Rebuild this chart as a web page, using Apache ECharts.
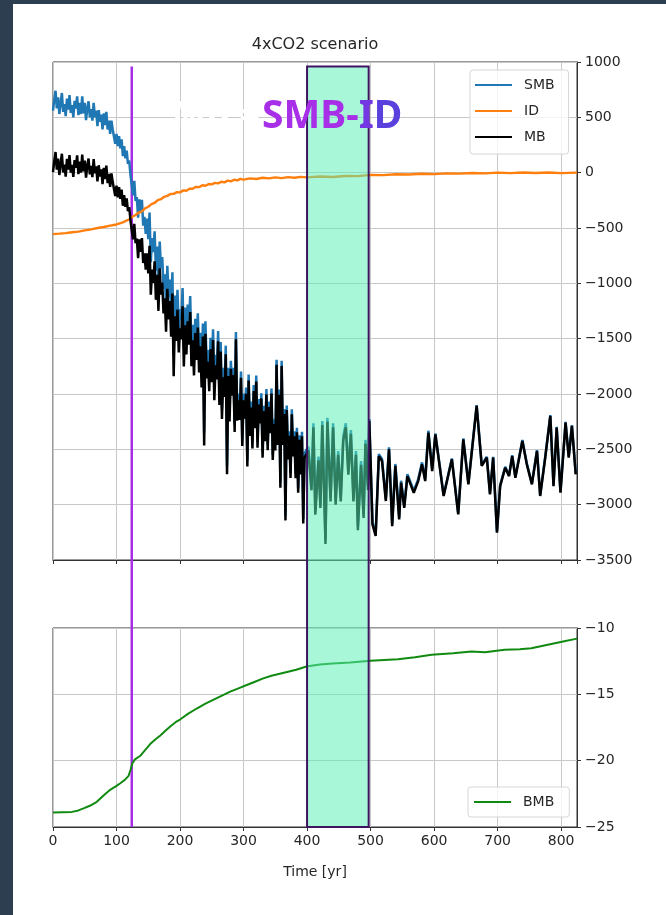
<!DOCTYPE html>
<html><head><meta charset="utf-8">
<script src="https://cdn.jsdelivr.net/npm/echarts@6/dist/echarts.min.js"></script>
<style>
html,body{margin:0;padding:0;background:#fff;}
#c{position:absolute;left:0;top:0;width:666px;height:915px;background:#fff;}
.band{position:absolute;background:#2c3e50;}
</style></head><body>
<div id="c"></div>
<div class="band" style="left:0;top:0;width:13px;height:915px"></div>
<div class="band" style="left:0;top:0;width:666px;height:4px"></div>
<script>
// ---------- data ----------
const massYears = [0,2,4,6,8,10,12,14,16,18,20,22,24,26,28,30,32,34,36,38,40,42,44,46,48,50,52,54,56,58,60,62,64,66,68,70,72,74,76,78,80,82,84,86,88,90,92,94,96,98,100,102,104,106,108,110,112,114,116,118,120,122,
124,126,128,130,132,134,136,138,140,142,144,146,148,150,152,154,156,158,160,162,164,166,168,170,172,174,176,178,180,182,184,186,188,190,192,194,196,198,
200,202,204,206,208,210,212,214,216,218,220,222,224,226,228,230,232,234,236,238,240,242,244,246,248,250,252,254,256,258,260,262,264,266,268,270,272,274,276,278,280,282,284,286,288,290,292,294,296,298,
300,302,304,306,308,310,312,314,316,318,320,322,324,326,328,330,332,334,336,338,340,342,344,346,348,350,352,354,356,358,360,362,364,366,368,370,372,374,376,378,380,382,384,386,388,390,392,394,396,
402,407,410,413,418,421,424,429,432,437,441,445,449,453,457,461,465,469,473,477,480,485,489,492,496,
498,503,508,513,518,524,529,534,539,545,548,553,558,568,575,581,586,591,597,602,608,615,628,638,646,654,667,675,683,688,693,699,704,712,718,723,728,739,746,754,762,767,775,783,788,793,799,807,812,817,823];

const smbValues = [560,660,740,580,680,530,630,720,550,620,510,670,570,700,540,610,500,650,580,690,520,630,530,690,535,630,475,580,645,500,575,470,630,500,560,420,565,460,525,390,535,430,550,390,470,350,470,390,400,260,350,240,330,220,300,150,240,130,200,80,110,-20,
-28,-205,-73,-256,-221,-407,-242,-363,-245,-478,-399,-554,-415,-602,-361,-810,-592,-719,-529,-886,-668,-1002,-623,-865,-762,-1050,-919,-1225,-841,-1124,-965,-1289,-900,-1650,-1111,-1338,-1059,-1447,
-1232,-1336,-1043,-1590,-1218,-1485,-1192,-1408,-1115,-1606,-1374,-1697,-1320,-1564,-1271,-1678,-1446,-1825,-1364,-2350,-1343,-1750,-1602,-1869,-1492,-1792,-1415,-1962,-1646,-1773,-1430,-2011,-1531,-2140,-1764,-1944,-1563,-2650,-1763,-2174,-1699,-1945,-1762,-2277,-1440,-2175,-1997,-2177,-1796,-2410,
-1996,-2166,-1942,-2600,-1824,-2326,-2069,-2439,-1918,-2255,-1833,-2434,-2045,-2217,-1993,-2528,-2106,-2377,-1955,-2457,-2068,-2306,-1950,-2551,-2228,-2466,-1690,-2414,-1959,-2800,-1700,-2416,-2136,-3100,-2104,-2550,-2336,-2716,-2139,-2519,-2338,-2718,-2306,-2851,-2373,-2687,-2341,-3130,-2534,
-2475,-2835,-2265,-3055,-2565,-2995,-2245,-3320,-2215,-2935,-2265,-2965,-2515,-2935,-2385,-2265,-2695,-2325,-2935,-2515,-3195,-2605,-3085,-2415,-2835,
-2226,-3160,-3265,-2543,-2587,-2949,-2482,-3176,-2632,-3115,-2784,-3010,-2724,-2874,-2769,-2618,-2769,-2332,-2678,-2357,-2612,-2914,-2582,-3080,-2402,-2809,-2100,-2642,-2567,-2899,-2567,-3246,-2824,-2658,-2734,-2553,-2749,-2416,-2628,-2809,-2507,-2914,-2567,-2191,-2824,-2296,-2884,-2251,-2567,-2281,-2719];

const mbValues = [5,106,187,28,128,-21,80,171,2,73,-36,125,27,158,0,71,-38,114,45,156,-13,99,1,164,11,108,-45,62,128,-15,62,-40,122,-5,57,-80,67,-36,30,-103,44,-59,64,-94,-11,-129,-7,-85,-72,-210,-118,-224,-130,-237,-153,-299,-203,-308,-232,-347,-311,-432,
-433,-603,-463,-638,-595,-773,-602,-716,-592,-816,-729,-876,-730,-910,-661,-1102,-876,-997,-801,-1149,-922,-1249,-865,-1103,-992,-1272,-1135,-1437,-1049,-1325,-1160,-1482,-1092,-1840,-1297,-1520,-1238,-1624,
-1407,-1506,-1208,-1752,-1378,-1643,-1344,-1555,-1260,-1749,-1514,-1832,-1450,-1693,-1399,-1805,-1568,-1942,-1480,-2465,-1457,-1860,-1708,-1974,-1596,-1894,-1513,-2056,-1740,-1867,-1523,-2100,-1616,-2225,-1848,-2027,-1642,-2725,-1838,-2248,-1772,-2014,-1828,-2343,-1506,-2240,-2058,-2235,-1854,-2469,
-2056,-2224,-1998,-2655,-1878,-2379,-2122,-2493,-1973,-2310,-1887,-2486,-2095,-2265,-2040,-2575,-2154,-2426,-2005,-2507,-2117,-2354,-1996,-2596,-2272,-2510,-1735,-2460,-2006,-2847,-1746,-2461,-2180,-3142,-2145,-2591,-2378,-2759,-2183,-2563,-2381,-2760,-2347,-2891,-2413,-2727,-2382,-3171,-2576,
-2510,-2870,-2300,-3090,-2600,-3030,-2280,-3355,-2250,-2970,-2300,-3000,-2550,-2970,-2420,-2300,-2730,-2360,-2970,-2550,-3230,-2640,-3120,-2450,-2870,
-2244,-3178,-3283,-2561,-2605,-2967,-2500,-3194,-2650,-3133,-2802,-3028,-2742,-2892,-2787,-2636,-2787,-2350,-2696,-2365,-2620,-2922,-2590,-3088,-2410,-2817,-2108,-2650,-2575,-2907,-2575,-3254,-2832,-2666,-2742,-2561,-2757,-2424,-2636,-2817,-2515,-2922,-2575,-2199,-2832,-2304,-2892,-2259,-2575,-2289,-2727];

const idYears = [0,10,20,30,40,50,60,70,80,90,100,110,120,125,130,135,140,145,150,155,160,165,170,175,180,185,190,195,200,205,210,215,220,225,230,235,240,245,250,255,260,265,270,275,280,285,290,295,300,310,320,330,340,350,360,370,380,390,400,420,440,460,480,500,520,540,560,580,600,620,640,660,680,700,720,740,760,780,800,825];
const idValues = [-555,-551,-546,-539,-533,-522,-513,-500,-491,-479,-468,-449,-421,-398,-382,-360,-349,-322,-308,-284,-272,-249,-240,-218,-210,-193,-192,-176,-178,-160,-163,-145,-146,-128,-131,-114,-118,-103,-106,-92,-97,-82,-88,-72,-78,-64,-70,-56,-63,-52,-57,-46,-52,-43,-49,-40,-46,-38,-43,-34,-39,-30,-31,-20,-22,-14,-17,-10,-13,-6,-9,-3,-6,0,-4,2,-3,1,-4,0];

const bmbYears = [0,15,30,40,48,58,69,80,90,100,106,113,119,122,125,129,137,145,153,161,169,177,185,193,200,213,227,240,253,266,279,292,305,318,331,344,357,370,383,399,420,440,468,500,543,570,596,630,659,680,711,735,753,779,805,825];
const bmbValues = [-23.9,-23.88,-23.86,-23.75,-23.6,-23.4,-23.1,-22.6,-22.2,-21.9,-21.7,-21.45,-21.15,-20.7,-20.2,-19.9,-19.65,-19.2,-18.75,-18.4,-18.1,-17.75,-17.4,-17.1,-16.9,-16.45,-16.05,-15.7,-15.4,-15.1,-14.8,-14.55,-14.3,-14.05,-13.8,-13.6,-13.45,-13.3,-13.15,-12.9,-12.75,-12.68,-12.6,-12.47,-12.35,-12.2,-12.02,-11.9,-11.77,-11.82,-11.64,-11.6,-11.52,-11.26,-11.0,-10.8];

const titleText = '4xCO2 scenario';
const xName = 'Time [yr]';
const markYear = 124;
const boxStart = 400, boxEnd = 497;
const boxTopValue = 960;

// ---------- chart ----------
const zip = (xs, ys) => xs.map((x, i) => [x, ys[i]]);
const minus = v => (v < 0 ? '\u2212' + Math.abs(v) : String(v));
const FONT = 'DejaVu Sans';
const TXT = '#262626';
const gridLine = {show: true, lineStyle: {color: '#c8c8c8', width: 1}};

const chart = echarts.init(document.getElementById('c'), null, {renderer: 'canvas'});
const xCommon = {
  type: 'value', min: 0, max: 825, interval: 100,
  axisLine: {show: true, onZero: false, lineStyle: {color: '#333', width: 1}},
  axisTick: {show: true, inside: false, length: 4, lineStyle: {color: '#333'}},
  splitLine: gridLine
};
const legendCommon = {
  orient: 'vertical', itemWidth: 37, itemHeight: 14,
  backgroundColor: 'rgba(255,255,255,0.8)', borderColor: '#d6d6d6', borderWidth: 1, borderRadius: 3,
  selectedMode: false, itemStyle: {opacity: 0},
  textStyle: {fontFamily: FONT, fontSize: 14, color: TXT, padding: [0, 0, 0, 7]}
};
chart.setOption({
  animation: false,
  backgroundColor: '#fff',
  grid: [
    {left: 53, top: 62, width: 524, height: 498, show: true, borderColor: '#333', borderWidth: 1, backgroundColor: 'transparent'},
    {left: 53, top: 628, width: 524, height: 199, show: true, borderColor: '#333', borderWidth: 1, backgroundColor: 'transparent'}
  ],
  xAxis: [
    Object.assign({}, xCommon, {gridIndex: 0, axisLabel: {show: false}}),
    Object.assign({}, xCommon, {gridIndex: 1,
      axisLabel: {show: true, margin: 7, fontFamily: FONT, fontSize: 14, color: TXT, showMaxLabel: false},
      name: xName, nameLocation: 'middle', nameGap: 38,
      nameTextStyle: {fontFamily: FONT, fontSize: 14, color: TXT}})
  ],
  yAxis: [
    {type: 'value', gridIndex: 0, position: 'right', min: -3500, max: 1000, interval: 500,
     axisLine: {show: true, onZero: false, lineStyle: {color: '#333'}},
     axisTick: {show: true, inside: false, length: 4, lineStyle: {color: '#333'}},
     axisLabel: {margin: 8, fontFamily: FONT, fontSize: 14, color: TXT, formatter: minus},
     splitLine: gridLine},
    {type: 'value', gridIndex: 1, position: 'right', min: -25, max: -10, interval: 5,
     axisLine: {show: true, onZero: false, lineStyle: {color: '#333'}},
     axisTick: {show: true, inside: false, length: 4, lineStyle: {color: '#333'}},
     axisLabel: {margin: 8, fontFamily: FONT, fontSize: 14, color: TXT, formatter: minus},
     splitLine: gridLine}
  ],
  legend: [
    Object.assign({}, legendCommon, {data: ['SMB', 'ID', 'MB'], left: 470, top: 70, itemGap: 12, padding: [8, 14, 10, 4]}),
    Object.assign({}, legendCommon, {data: ['BMB'], left: 468, top: 787, padding: [8, 15, 8, 5]})
  ],
  series: [
    {name: 'SMB', type: 'line', xAxisIndex: 0, yAxisIndex: 0, data: zip(massYears, smbValues),
     symbol: 'none', color: '#1f77b4', lineStyle: {color: '#1f77b4', width: 2.5}, z: 2},
    {name: 'ID', type: 'line', xAxisIndex: 0, yAxisIndex: 0, data: zip(idYears, idValues),
     symbol: 'none', color: '#ff7f0e', lineStyle: {color: '#ff7f0e', width: 2.4}, z: 3},
    {name: 'MB', type: 'line', xAxisIndex: 0, yAxisIndex: 0, data: zip(massYears, mbValues),
     symbol: 'none', color: '#000000', lineStyle: {color: '#000000', width: 2.5}, z: 4},
    {name: 'BMB', type: 'line', xAxisIndex: 1, yAxisIndex: 1, data: zip(bmbYears, bmbValues),
     symbol: 'none', color: '#108a10', lineStyle: {color: '#108a10', width: 2}, z: 2}
  ]
});

const px = v => chart.convertToPixel({xAxisIndex: 0}, v);
const yTop = chart.convertToPixel({yAxisIndex: 0}, boxTopValue);
const yBot = chart.convertToPixel({yAxisIndex: 1}, -25);
const x0 = px(boxStart), x1 = px(boxEnd), xm = px(markYear);
const bigFont = 'bold 39px "Noto Sans"';

chart.setOption({
  graphic: [
    {type: 'text', x: 315, y: 45, z: 10,
     style: {text: titleText, font: '16px "DejaVu Sans"', fill: TXT, align: 'center', verticalAlign: 'middle'}},
    {type: 'line', z: 1, shape: {x1: xm, y1: yTop, x2: xm, y2: yBot},
     style: {stroke: '#a62ee6', lineWidth: 2.5}},
    {type: 'text', x: 172, y: 117, z: 1,
     style: {text: 'MB =', font: 'bold 36px "Noto Sans"', fill: '#ffffff', align: 'left', verticalAlign: 'middle'}},
    {type: 'rect', z: 50, shape: {x: x0, y: yTop, width: x1 - x0, height: yBot - yTop},
     style: {fill: 'rgba(88,240,181,0.52)', stroke: '#3d1560', lineWidth: 2}},
    {type: 'text', x: 262, y: 117, z: 60,
     style: {text: '{a|SMB-}{b|I}{c|D}', font: bigFont, align: 'left', verticalAlign: 'middle', fill: '#a82fe8',
       rich: {
         a: {font: bigFont, fill: '#a82fe8'},
         b: {font: bigFont, fill: '#7438e2'},
         c: {font: bigFont, fill: '#5a40dc'}
       }}}
  ]
});
</script>
</body></html>
